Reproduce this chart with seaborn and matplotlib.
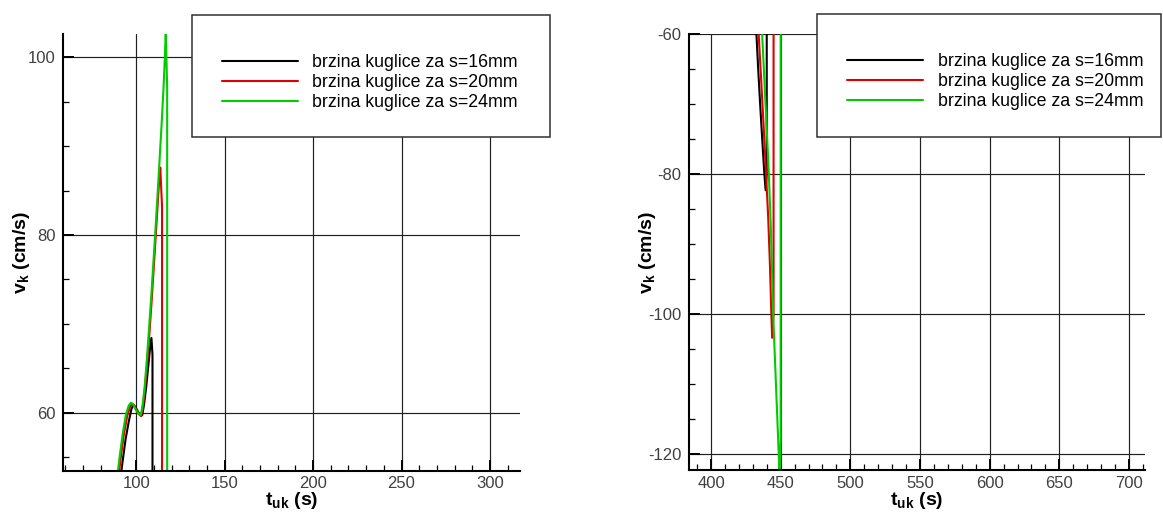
import matplotlib
matplotlib.use("Agg")
import matplotlib.pyplot as plt
from matplotlib.patches import Rectangle
from matplotlib.lines import Line2D
from matplotlib.ticker import MultipleLocator
import pandas as pd
import seaborn as sns

# ---- series names and colours ----
serije = ["brzina kuglice za s=16mm", "brzina kuglice za s=20mm", "brzina kuglice za s=24mm"]
boje = ["#000000", "#e00000", "#00cc00"]

# ---- upward stroke: time t_uk (s), ball velocity v_k (cm/s) ----
t_gore_16 = [88.5, 90.5, 92.3, 94.0, 95.8, 97.3, 98.4, 99.6, 101.0, 102.3, 103.4, 104.5,
             105.6, 106.8, 107.8, 108.6, 109.2, 109.2]
v_gore_16 = [49.0, 51.6, 54.5, 57.0, 59.0, 60.4, 60.9, 60.6, 60.1, 59.7, 59.7, 61.0,
             62.8, 65.2, 67.2, 68.4, 66.5, 0.0]

t_gore_20 = [87.5, 89.5, 91.3, 93.0, 94.8, 96.4, 97.6, 98.8, 100.2, 101.6, 102.8, 103.9,
             105.0, 106.2, 107.5, 108.8, 110.0, 111.2, 112.3, 113.0, 113.6, 114.6, 114.6]
v_gore_20 = [49.0, 52.0, 55.0, 57.5, 59.5, 60.6, 61.0, 60.8, 60.2, 59.8, 59.6, 60.8,
             62.8, 65.6, 69.0, 72.8, 76.6, 80.4, 84.0, 86.2, 87.6, 83.2, 0.0]

t_gore_24 = [87.0, 89.0, 90.8, 92.5, 94.2, 95.8, 97.0, 98.3, 99.8, 101.3, 102.6, 103.7,
             104.8, 106.0, 107.3, 108.6, 109.8, 111.0, 112.2, 113.3, 114.4, 115.4, 116.2,
             116.7, 117.5, 117.5]
v_gore_24 = [49.0, 52.3, 55.3, 57.8, 59.8, 60.8, 61.1, 60.9, 60.3, 59.9, 59.7, 61.0,
             63.0, 66.0, 69.6, 73.4, 77.2, 81.0, 85.0, 88.8, 92.6, 96.4, 100.0,
             102.9, 96.6, 0.0]

# ---- downward stroke ----
t_dolje_16 = [431.8, 432.6, 434.0, 435.5, 437.0, 438.3, 439.2, 440.0, 440.0]
v_dolje_16 = [-56.0, -60.0, -65.5, -70.8, -75.8, -80.0, -82.3, -80.0, 0.0]

t_dolje_20 = [433.3, 434.2, 435.8, 437.6, 439.5, 441.0, 442.3, 443.3, 443.9, 444.9, 444.9]
v_dolje_20 = [-56.0, -60.0, -65.8, -72.5, -80.0, -86.0, -93.0, -100.0, -103.4, -100.0, 0.0]

t_dolje_24 = [435.8, 436.7, 438.3, 440.0, 441.5, 443.0, 444.6, 446.0, 447.4, 448.6,
              449.2, 450.0, 450.0]
v_dolje_24 = [-56.0, -60.0, -66.5, -73.5, -80.0, -88.0, -100.0, -107.0, -114.0, -120.0,
              -124.5, -118.0, 0.0]


def tablica(parovi):
    dijelovi = []
    for ime, (t, v) in zip(serije, parovi):
        dijelovi.append(pd.DataFrame({"t": t, "v": v, "serija": ime}))
    return pd.concat(dijelovi, ignore_index=True)


df_gore = tablica([(t_gore_16, v_gore_16), (t_gore_20, v_gore_20), (t_gore_24, v_gore_24)])
df_dolje = tablica([(t_dolje_16, v_dolje_16), (t_dolje_20, v_dolje_20), (t_dolje_24, v_dolje_24)])

sns.set_theme(style="white")
plt.rcParams["font.family"] = ["Liberation Sans", "DejaVu Sans"]
plt.rcParams["mathtext.fontset"] = "custom"
plt.rcParams["mathtext.rm"] = "Liberation Sans"
plt.rcParams["mathtext.bf"] = "Liberation Sans:bold"
plt.rcParams["mathtext.it"] = "Liberation Sans:bold"
plt.rcParams["mathtext.default"] = "bf"
plt.rcParams["axes.unicode_minus"] = False

W, H = 1163, 515
fig = plt.figure(figsize=(W / 100, H / 100), dpi=100)
fig.patch.set_facecolor("white")


def px_ax(x0, x1, ytop, ybot):
    return fig.add_axes([x0 / W, (H - ybot) / H, (x1 - x0) / W, (ybot - ytop) / H])


ax1 = px_ax(63, 520, 34.3, 470.7)
ax2 = px_ax(689, 1145, 34.3, 470.0)

paleta = dict(zip(serije, boje))
for ax, df in ((ax1, df_gore), (ax2, df_dolje)):
    sns.lineplot(data=df, x="t", y="v", hue="serija", palette=paleta, hue_order=serije,
                 sort=False, estimator=None, legend=False, linewidth=1.5, ax=ax)

ax1.set_xlim(58.6, 317.0)
ax1.set_ylim(53.45, 102.6)
ax2.set_xlim(384.2, 711.5)
ax2.set_ylim(-122.3, -60.0)

for ax in (ax1, ax2):
    ax.set_facecolor("white")
    ax.xaxis.set_major_locator(MultipleLocator(50))
    ax.xaxis.set_minor_locator(MultipleLocator(10))
    ax.yaxis.set_major_locator(MultipleLocator(20))
    ax.yaxis.set_minor_locator(MultipleLocator(5))
    ax.grid(True, which="major", color="#202020", linewidth=0.85)
    ax.grid(False, which="minor")
    ax.tick_params(which="major", direction="in", length=8, width=1.4, color="black",
                   labelsize=12, labelcolor="#404040", bottom=True, left=True)
    ax.tick_params(axis="x", which="major", pad=4)
    ax.tick_params(axis="y", which="major", pad=5.5)
    ax.tick_params(which="minor", direction="in", length=4, width=0.9, color="black",
                   bottom=True, left=True)
    for s in ("top", "right"):
        ax.spines[s].set_visible(False)
    for s in ("left", "bottom"):
        ax.spines[s].set_color("black")
        ax.spines[s].set_linewidth(1.5)
    ax.set_xlabel(r"$t_{uk}$ (s)", fontsize=14, fontweight="bold", color="black", va="top")
    ax.set_ylabel(r"$v_k$ (cm/s)", fontsize=14, fontweight="bold", color="black", va="center")
    ax.xaxis.set_label_coords(0.5, -0.045)

ax1.yaxis.set_label_coords((21.7 - 63) / (520 - 63), 0.5)
ax2.yaxis.set_label_coords((647.6 - 689) / (1145 - 689), 0.5)

# legend frames and entries
rucke = [Line2D([], [], color=c, linewidth=1.5) for c in boje]
for (bx0, by0, bx1, by1, hx, ry) in ((192, 15.3, 550, 137.3, 221.7, 60.0),
                                     (816.5, 14.0, 1161.0, 136.7, 847.0, 59.3)):
    fig.add_artist(Rectangle((bx0 / W, (H - by1) / H), (bx1 - bx0) / W, (by1 - by0) / H,
                             transform=fig.transFigure, facecolor="white",
                             edgecolor="#303030", linewidth=1.1, zorder=3))
    leg = fig.legend(rucke, serije, loc="upper left",
                     bbox_to_anchor=(hx / W, (H - (ry - 6.0)) / H),
                     bbox_transform=fig.transFigure, frameon=False, borderpad=0,
                     borderaxespad=0, handlelength=4.3, handletextpad=0.8,
                     labelspacing=0.17, fontsize=12.8)
    leg.set_zorder(4)
    for tx in leg.get_texts():
        tx.set_color("black")

fig.savefig("out.png", dpi=100, facecolor="white")
